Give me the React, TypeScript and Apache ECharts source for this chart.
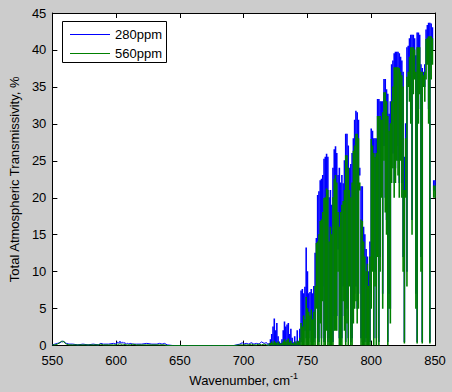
import React, { useEffect, useRef } from "react";
import * as echarts from "echarts";

// Low-wavenumber region (sparse readings, cm^-1)
const lowWn = [550,552,554,556,557,558,559,560,561,563,566,570,574,578,582,586,588,590,594,598,600,601,602,603,604,605,606,607,608,609,610,611,613,616,620,624,628,632,634,636,638,640,645,655,665,675,685,692,697,699,700,702,704,706,708,710,712,714,716,718];
const lowBlue = [0.1,0.2,0.3,0.4,0.5,0.6,0.5,0.4,0.3,0.2,0.2,0.1,0.2,0.1,0.2,0.1,0.3,0.2,0.2,0.3,0.2,0.5,0.3,0.6,0.3,0.5,0.3,0.4,0.2,0.3,0.2,0.3,0.2,0.2,0.2,0.3,0.2,0.2,0.3,0.2,0.3,0.1,0,0,0,0,0,0,0.2,0.4,0.2,0.3,0.2,0.4,0.2,0.3,0.2,0.5,0.3,0.4];
const lowGreen = [0.1,0.1,0.2,0.4,0.6,0.5,0.6,0.3,0.2,0.1,0.1,0.1,0.1,0.1,0.1,0.1,0.2,0.1,0.1,0.1,0.1,0.2,0.1,0.3,0.1,0.2,0.1,0.2,0.1,0.1,0.1,0.1,0.2,0.1,0.1,0.1,0.1,0.1,0.1,0.1,0.1,0,0,0,0,0,0,0,0.1,0.1,0.1,0.1,0.1,0.2,0.1,0.1,0.2,0.1,0.2,0.1];

// Dense band region: one reading per cm^-1 from 720 to 850 (local max / local min)
const hiStart = 720;
const blueHigh = [
  0.3,0.8,1.5,2.5,3.6,2.0,3.0,1.2,0.5,0.3,
  0.8,2.0,3.2,2.5,2.8,3.0,1.5,2.2,1.0,0.4,
  1.2,0.5,2.0,0.6,2.2,7.4,7.6,7.0,7.9,13.2,
  10.0,7.0,7.2,7.6,7.0,8.0,12.5,14.5,20.3,20.8,
  22.3,22.5,23.0,25.2,25.5,25.9,25.5,20.0,21.0,19.0,
  24.0,26.5,26.9,26.0,23.0,24.0,22.0,23.0,21.9,25.0,
  28.6,28.6,27.0,24.0,24.5,26.0,28.0,30.5,31.7,31.5,
  30.5,24.0,21.5,21.5,16.0,15.0,13.0,12.0,10.0,14.0,
  29.3,29.0,28.0,28.0,28.0,33.3,33.3,33.0,33.0,33.0,
  36.0,36.0,34.6,34.0,31.3,33.0,38.0,38.5,39.5,39.7,
  39.7,39.7,39.5,39.0,38.5,37.0,25.5,30.0,40.3,40.5,
  41.5,42.0,42.0,42.0,41.5,39.2,42.3,42.3,42.0,38.0,
  37.5,37.0,38.0,42.7,43.3,43.6,43.6,43.5,43.0,22.3,
  22.3
];
const blueLow = [
  0,0,0,0,0,0,0,0,0,0,
  0,0,0,0,0,0,0,0,0,0,
  0,0,0,0,0,0.5,1,0.5,2,1,
  0.5,1,2,0.5,1,0.5,1,7,1,0.5,
  5,1,8,0.5,1,4,0.5,1,0.5,1,
  0.5,4,3,4,13,1,0.5,1,8,4,
  0.5,5,1,10,0.5,1,5,7,8,5,
  7,23,1,0.5,1,0.5,1,0.5,1,0.5,
  7,12,1,10,1,14,0.5,12,22,7,
  27,20,17,0.5,7,5,24,26,22,24,
  27,25,22,27,22,12,0.5,22,10,37,
  35,32,17,36,38,7,0.5,32,36,12,
  0.5,36,35,38,40,32,0.5,38,40,21,
  21
];
const greenHigh = [
  0.2,0.3,0.5,0.3,0.6,0.4,0.3,0.5,0.2,0.2,
  0.3,0.5,0.8,0.5,0.7,0.9,0.4,0.6,0.3,0.2,
  0.5,0.3,0.6,0.5,1.0,3.0,2.5,4.0,3.5,6.5,
  5.0,4.5,4.0,4.8,3.5,4.5,8.0,13.8,14.0,15.0,
  16.8,17.0,18.0,19.9,20.0,21.2,21.0,14.0,16.0,15.0,
  20.0,22.5,23.0,22.0,18.0,16.0,18.0,19.0,19.5,21.0,
  25.7,25.7,24.0,21.0,20.0,22.0,26.3,27.0,28.6,28.6,
  28.0,22.0,17.0,16.8,14.0,12.0,10.0,11.0,8.0,12.0,
  27.9,27.0,26.0,25.5,26.0,31.0,31.0,31.0,30.5,31.5,
  34.2,34.2,33.0,31.0,29.0,30.0,33.0,35.0,37.6,37.6,
  37.6,37.6,37.5,37.0,36.5,35.0,21.0,28.0,36.3,37.0,
  39.0,40.3,40.3,40.3,40.0,37.0,40.3,40.3,40.3,37.0,
  37.0,36.5,37.0,41.4,41.6,41.8,41.8,41.8,41.5,21.6,
  21.6
];
const greenLow = [
  0,0,0,0,0,0,0,0,0,0,
  0,0,0,0,0,0,0,0,0,0,
  0,0,0,0,0,0,0,0,0,0,
  0,0,0,0,0,0,0,5,0,0,
  3,0,6,0,0,2,0,0,0,0,
  0,2,2,2,10,0,0,0,6,2,
  0,3,0,8,0,0,3,5,6,3,
  5,21,0,0,0,0,0,0,0,0,
  5,10,0,8,0,12,0,10,20,5,
  25,18,15,0,5,3,22,24,20,22,
  25,23,20,25,20,10,0.3,20,8,35,
  33,30,15,34,36,5,0.3,30,34,10,
  0.3,35,33,36,38,30,0.3,36,38,20,
  20
];

const xTicks = { min: 550, max: 850, interval: 50 };
const yTicks = { min: 0, max: 45, interval: 5 };
const seriesNames = ["280ppm", "560ppm"];
const seriesColors = ["#0000ff", "#008000"];

function buildLow(vals: number[]) {
  const pts: number[][] = lowWn.map((w, i) => [w, vals[i]]);
  pts.push([hiStart - 0.5, 0]);
  return pts;
}
function buildBand(high: number[], low: number[]) {
  return high.map((h, i) => [hiStart + i, low[i], h]);
}

const FONT = "Liberation Sans, Arial, sans-serif";

export default function App() {
  const ref = useRef<HTMLDivElement>(null);
  useEffect(() => {
    if (!ref.current) return;
    const chart = echarts.init(ref.current, null, { renderer: "svg" });
    const axisCommon = {
      type: "value" as const,
      axisLine: { show: true, onZero: false, lineStyle: { color: "#000", width: 1 } },
      axisTick: { show: true, inside: true, length: 5, lineStyle: { color: "#000" } },
      splitLine: { show: false },
    };
    const lineSeries = (idx: number, data: number[][], z: number) => ({
      name: seriesNames[idx],
      type: "line",
      symbol: "none",
      data,
      lineStyle: { color: seriesColors[idx], width: 1 },
      itemStyle: { color: seriesColors[idx] },
      z,
    });
    const bandSeries = (idx: number, data: number[][], z: number) => ({
      name: seriesNames[idx],
      type: "custom",
      clip: true,
      data,
      encode: { x: 0, y: [1, 2] },
      z,
      renderItem: (_params: any, api: any) => {
        const w = api.value(0);
        const lo = api.value(1);
        const hi = api.value(2);
        const p1 = api.coord([w - 0.5, hi]);
        const p2 = api.coord([w + 0.5, lo]);
        return {
          type: "rect",
          shape: {
            x: p1[0] - 0.15,
            y: p1[1] - 0.5,
            width: p2[0] - p1[0] + 0.3,
            height: Math.max(p2[1] - p1[1] + 0.5, 1),
          },
          style: { fill: seriesColors[idx] },
        };
      },
    });
    const lg = { x: 62.5, y: 21.5, w: 104, h: 41 };
    chart.setOption({
      animation: false,
      backgroundColor: "#cccccc",
      textStyle: { fontFamily: FONT },
      grid: {
        left: 52, right: 17, top: 13, bottom: 44,
        show: true, backgroundColor: "#ffffff", borderWidth: 0,
      },
      graphic: [
        {
          type: "group",
          z: 100,
          children: [
            {
              type: "rect",
              shape: { x: lg.x, y: lg.y, width: lg.w, height: lg.h },
              style: { fill: "#ffffff", stroke: "#000", lineWidth: 1 },
            },
            ...seriesNames.flatMap((n, i) => {
              const cy = 34.5 + i * 19;
              return [
                {
                  type: "line",
                  shape: { x1: 70, y1: cy, x2: 110, y2: cy },
                  style: { stroke: seriesColors[i], lineWidth: 1 },
                },
                {
                  type: "text",
                  x: 115,
                  y: cy,
                  style: {
                    text: n, fill: "#000", fontSize: 13, fontFamily: FONT,
                    verticalAlign: "middle", align: "left",
                  },
                },
              ];
            }),
          ],
        },
      ],
      xAxis: [
        {
          ...axisCommon, ...xTicks, position: "bottom",
          axisLabel: { fontSize: 13, color: "#000", margin: 8, fontFamily: FONT },
          name: "Wavenumber, cm{sup|-1}",
          nameLocation: "middle",
          nameGap: 25,
          nameTextStyle: {
            fontSize: 13, color: "#000", fontFamily: FONT,
            rich: { sup: { fontSize: 9, color: "#000", fontFamily: FONT, padding: [0, 0, 9, 0] } },
          },
        },
        { ...axisCommon, ...xTicks, position: "top", axisLabel: { show: false } },
      ],
      yAxis: [
        {
          ...axisCommon, ...yTicks, position: "left",
          axisLabel: { fontSize: 13, color: "#000", margin: 6, fontFamily: FONT, lineHeight: 8 },
          name: "Total Atmospheric Transmissivity, %",
          nameLocation: "middle",
          nameGap: 28,
          nameTextStyle: { fontSize: 13, color: "#000", fontFamily: FONT },
        },
        { ...axisCommon, ...yTicks, position: "right", axisLabel: { show: false } },
      ],
      series: [
        lineSeries(0, buildLow(lowBlue), 2),
        bandSeries(0, buildBand(blueHigh, blueLow), 2),
        lineSeries(1, buildLow(lowGreen), 3),
        bandSeries(1, buildBand(greenHigh, greenLow), 3),
      ],
    });
    return () => chart.dispose();
  }, []);
  return (
    <div
      ref={ref}
      style={{ position: "fixed", left: 0, top: 0, width: 452, height: 392 }}
    />
  );
}
